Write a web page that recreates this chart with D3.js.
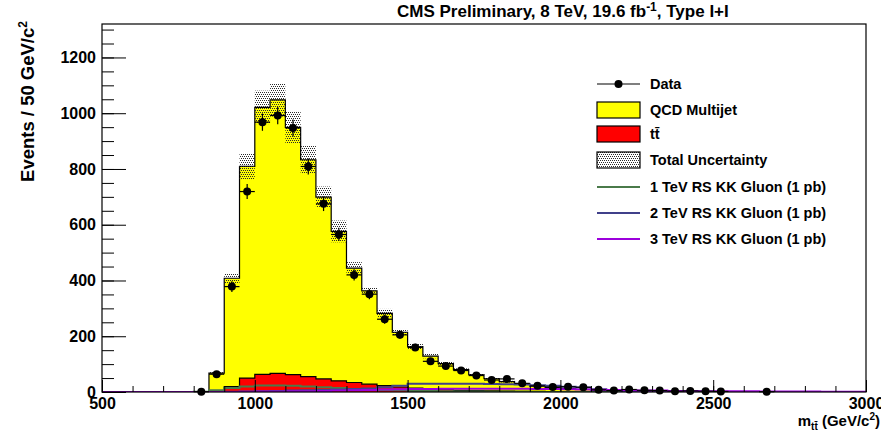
<!DOCTYPE html>
<html>
<head>
<meta charset="utf-8">
<script src="https://cdn.jsdelivr.net/npm/d3@7"></script>
<style>
  body { margin: 0; background: #fff; }
  svg { display: block; }
  text { font-family: "Liberation Sans", Arial, Helvetica, sans-serif; font-weight: bold; fill: #000; }
</style>
</head>
<body>
<svg id="chart" width="881" height="434"></svg>
<script>
// m_tt bins, 50 GeV wide, lower edges 500 ... 2950
const binLow = d3.range(500, 3000, 50);
const binWidth = 50;

const qcd = [0,0,0,0,0,0,0,66,389,759,958,981,887,778,652,536,410,335,259,196,
             149,118,94,74,57,44,34,26,19,15,11,8,6,4,3,2,2,1,1,1,
             1,0,0,0,0,0,0,0,0,0];
const ttbar = [0,0,0,0,0,0,0,2,19,50,63,67,62,55,47,40,34,28,23,18,
               14,11,8,6,5,4,3,2,2,1,1,1,0,0,0,0,0,0,0,0,
               0,0,0,0,0,0,0,0,0,0];
const totalUnc = [0,0,0,0,0,0,0,5,18,48,60,60,57,50,38,39,22,12,16,12,
                  12,8,6,5,4,3,3,2,2,2,1,1,1,1,1,1,1,0,0,0,
                  0,0,0,0,0,0,0,0,0,0];
const data = [0,0,0,0,0,0,1,64,378,719,968,992,947,809,675,565,420,351,261,205,
              160,110,93,77,59,43,47,31,22,18,19,17,8,5,9,6,5,3,4,3,
              2,0,0,1,0,0,0,0,0,0];
const kk1TeV = [0,0,0,0,0,0,1,6,14,20,23,23,22,20,17,14,11,9,7,6,
                4,4,3,2,2,1,1,1,0,0,0,0,0,0,0,0,0,0,0,0,
                0,0,0,0,0,0,0,0,0,0];
const kk2TeV = [0,0,0,0,0,0,0,0,1,2,3,4,5,6,7,9,11,13,17,22,
                30,30,30,30,30,29,28,27,24,22,19,16,10,6,4,2,1,1,0,0,
                0,0,0,0,0,0,0,0,0,0];
const kk3TeV = [0,0,0,0,0,0,0,0,0,1,2,2,3,3,4,5,6,7,9,10,
                11,11,12,12,12,12,12,12,11,11,10,9,8,7,6,5,5,4,4,3,
                3,3,3,2,2,2,2,1,1,1];

const yMajor = [0,200,400,600,800,1000,1200];
const yMinor = d3.range(0, 1320, 50);
const xMajor = [500,1000,1500,2000,2500,3000];
const xMinor = d3.range(500, 3001, 100);

const colors = {
  qcd: "#ffff00", ttbar: "#ff0000",
  kk1: "#4a7a4a", kk2: "#40408a", kk3: "#9c00dc"
};

const frame = { left: 102, right: 866, top: 24, bottom: 392 };
const x = d3.scaleLinear().domain([500, 3000]).range([frame.left, frame.right]);
const y = d3.scaleLinear().domain([0, 1320]).range([frame.bottom, frame.top]);

const svg = d3.select("#chart");
const defs = svg.append("defs");

// dotted fill for the total uncertainty band
const pat = defs.append("pattern")
  .attr("id", "uncPattern").attr("patternUnits", "userSpaceOnUse")
  .attr("width", 4).attr("height", 4);
[[0, 0], [2, 0], [1, 2], [3, 2]].forEach(([px, py]) =>
  pat.append("rect").attr("x", px).attr("y", py).attr("width", 1).attr("height", 1).attr("fill", "#2a2a2a"));

defs.append("clipPath").attr("id", "plotClip")
  .append("rect").attr("x", frame.left).attr("y", frame.top)
  .attr("width", frame.right - frame.left).attr("height", frame.bottom - frame.top);

const total = qcd.map((v, i) => v + ttbar[i]);

function steps(vals) {
  return binLow.map((b, i) => [b, vals[i]]).concat([[3000, vals[vals.length - 1]]]);
}
const area = d3.area().curve(d3.curveStepAfter)
  .x(d => x(d[0])).y0(y(0)).y1(d => y(d[1]));
const line = d3.line().curve(d3.curveStepAfter)
  .x(d => x(d[0])).y(d => y(d[1]));

const plot = svg.append("g").attr("clip-path", "url(#plotClip)");

// stacked backgrounds: QCD on top of ttbar
plot.append("path").attr("d", area(steps(total))).attr("fill", colors.qcd);
plot.append("path").attr("d", line(steps(total))).attr("fill", "none").attr("stroke", "#000").attr("stroke-width", 1.2);
plot.append("path").attr("d", area(steps(ttbar))).attr("fill", colors.ttbar);
plot.append("path").attr("d", line(steps(ttbar))).attr("fill", "none").attr("stroke", "#000").attr("stroke-width", 1.2);

// total uncertainty band
plot.append("g").selectAll("rect")
  .data(binLow.map((b, i) => ({ b, t: total[i], u: totalUnc[i] })).filter(d => d.t > 0))
  .join("rect")
  .attr("x", d => x(d.b)).attr("width", d => x(d.b + binWidth) - x(d.b))
  .attr("y", d => y(d.t + Math.max(d.u, 1)))
  .attr("height", d => y(d.t - Math.max(d.u, 1)) - y(d.t + Math.max(d.u, 1)))
  .attr("fill", "url(#uncPattern)");

// signal hypotheses
[[kk1TeV, colors.kk1], [kk2TeV, colors.kk2], [kk3TeV, colors.kk3]].forEach(([vals, c]) => {
  plot.append("path").attr("d", line(steps(vals)))
    .attr("fill", "none").attr("stroke", c).attr("stroke-width", 2);
});

// data points with statistical errors
const pts = binLow.map((b, i) => ({ b, v: data[i] })).filter(d => d.v > 0);
const dg = svg.append("g");
dg.selectAll("line.ex").data(pts).join("line").attr("class", "ex")
  .attr("x1", d => x(d.b)).attr("x2", d => x(d.b + binWidth))
  .attr("y1", d => y(d.v)).attr("y2", d => y(d.v))
  .attr("stroke", "#000").attr("stroke-width", 1.2);
dg.selectAll("line.ey").data(pts).join("line").attr("class", "ey")
  .attr("x1", d => x(d.b + binWidth / 2)).attr("x2", d => x(d.b + binWidth / 2))
  .attr("y1", d => y(d.v + Math.sqrt(d.v))).attr("y2", d => y(Math.max(0, d.v - Math.sqrt(d.v))))
  .attr("stroke", "#000").attr("stroke-width", 1.2);
dg.selectAll("circle").data(pts).join("circle")
  .attr("cx", d => x(d.b + binWidth / 2)).attr("cy", d => y(d.v)).attr("r", 4)
  .attr("fill", "#000");

// axes: ticks drawn inward
const fmt = d3.format("d");
svg.append("g").attr("transform", `translate(${frame.left},0)`)
  .call(d3.axisLeft(y).tickValues(yMajor).tickFormat(fmt).tickSizeInner(-24).tickSizeOuter(0).tickPadding(6));
svg.append("g").attr("transform", `translate(${frame.left},0)`)
  .call(d3.axisLeft(y).tickValues(yMinor).tickSizeInner(-12).tickSizeOuter(0).tickFormat(""));
svg.append("g").attr("transform", `translate(0,${frame.bottom})`)
  .call(d3.axisBottom(x).tickValues(xMajor).tickFormat(fmt).tickSizeInner(-12).tickSizeOuter(0).tickPadding(6));
svg.append("g").attr("transform", `translate(0,${frame.bottom})`)
  .call(d3.axisBottom(x).tickValues(xMinor).tickSizeInner(-6).tickSizeOuter(0).tickFormat(""));
svg.selectAll(".domain").remove();
svg.selectAll(".tick line").attr("stroke", "#000").attr("stroke-width", 1);
svg.selectAll(".tick text").attr("font-size", 16).attr("font-family", null);

// frame
svg.append("rect").attr("x", frame.left).attr("y", frame.top)
  .attr("width", frame.right - frame.left).attr("height", frame.bottom - frame.top)
  .attr("fill", "none").attr("stroke", "#000").attr("stroke-width", 1.2);

// titles
const title = svg.append("text").attr("x", 397).attr("y", 17).attr("font-size", 17);
title.append("tspan").text("CMS Preliminary, 8 TeV, 19.6 fb");
title.append("tspan").attr("font-size", 12).attr("dy", -6).text("-1");
title.append("tspan").attr("dy", 6).text(", Type I+I");

const yl = svg.append("text").attr("transform", "translate(34,21) rotate(-90)")
  .attr("text-anchor", "end").attr("font-size", 18.5);
yl.append("tspan").text("Events / 50 GeV/c");
yl.append("tspan").attr("font-size", 12).attr("dy", -7).text("2");

const xl = svg.append("text").attr("x", 880).attr("y", 426).attr("text-anchor", "end").attr("font-size", 15);
xl.append("tspan").text("m");
xl.append("tspan").attr("font-size", 10).attr("dy", 4).text("tt\u0304");
xl.append("tspan").attr("dy", -4).text(" (GeV/c");
xl.append("tspan").attr("font-size", 10).attr("dy", -6).text("2");
xl.append("tspan").attr("dy", 6).text(")");

// legend
const legendRows = [
  { label: "Data", kind: "data", y: 84 },
  { label: "QCD Multijet", kind: "box", fill: colors.qcd, y: 110 },
  { label: "tt\u0304", kind: "box", fill: colors.ttbar, y: 134 },
  { label: "Total Uncertainty", kind: "box", fill: "url(#uncPattern)", y: 160 },
  { label: "1 TeV RS KK Gluon (1 pb)", kind: "line", color: colors.kk1, y: 187 },
  { label: "2 TeV RS KK Gluon (1 pb)", kind: "line", color: colors.kk2, y: 213 },
  { label: "3 TeV RS KK Gluon (1 pb)", kind: "line", color: colors.kk3, y: 239 }
];
const lg = svg.append("g");
legendRows.forEach(r => {
  if (r.kind === "data") {
    lg.append("line").attr("x1", 597).attr("x2", 640).attr("y1", r.y).attr("y2", r.y).attr("stroke", "#000").attr("stroke-width", 1.2);
    lg.append("circle").attr("cx", 618.5).attr("cy", r.y).attr("r", 4).attr("fill", "#000");
  } else if (r.kind === "box") {
    lg.append("rect").attr("x", 597).attr("y", r.y - 8).attr("width", 43).attr("height", 16)
      .attr("fill", r.fill).attr("stroke", "#000").attr("stroke-width", 1.2);
  } else {
    lg.append("line").attr("x1", 597).attr("x2", 640).attr("y1", r.y).attr("y2", r.y).attr("stroke", r.color).attr("stroke-width", 2);
  }
  lg.append("text").attr("x", 650).attr("y", r.y).attr("dy", "0.36em").attr("font-size", 14.5).text(r.label);
});
</script>
</body>
</html>
